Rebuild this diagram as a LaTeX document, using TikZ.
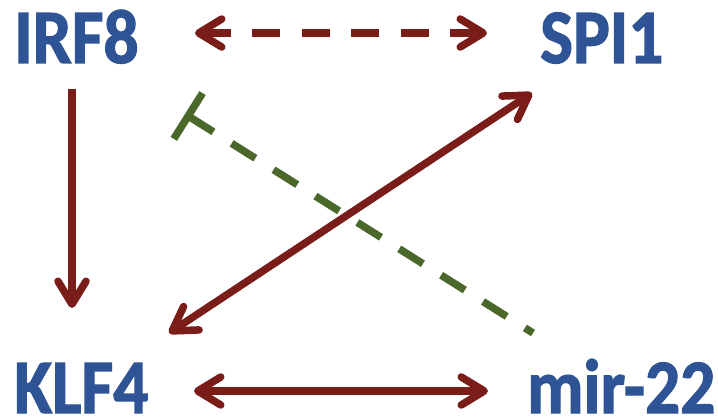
\documentclass[tikz,border=0pt]{standalone}
\usepackage{fontspec}
\setmainfont{Carlito}[FakeStretch=0.9, BoldFeatures={FakeBold=1.6}]
\usetikzlibrary{arrows.meta}
\definecolor{txtblue}{RGB}{46,84,150}
\definecolor{arrred}{RGB}{122,28,24}
\definecolor{inhgreen}{RGB}{74,104,42}
\begin{document}
\begin{tikzpicture}[x=1pt,y=-1pt,
  gene/.style={font=\fontsize{77}{84}\selectfont\bfseries, text=txtblue, inner sep=0pt, anchor=base west},
  act/.style={draw=arrred, line width=7.5pt},
  both/.style={act, {Straight Barb[length=23pt,width=28pt,round]}-{Straight Barb[length=23pt,width=28pt,round]}},
  one/.style={act, -{Straight Barb[length=23pt,width=28pt,round]}},
  dsh/.style={dash pattern=on 28pt off 21.5pt},
  inhib/.style={draw=inhgreen, line width=7.5pt, dsh, {Bar[width=54pt]}-}
]
\useasboundingbox (0,0) rectangle (718,420);
\node[gene] (irf8) at (14,63) {IRF8};
\node[gene] (spi1) at (540,63) {SPI1};
\node[gene] (klf4) at (14,413) {KLF4};
\node[gene] (mir) at (527,413) {mir-22};

\coordinate (irfR) at (195,33);
\coordinate (spiL) at (487,33);
\coordinate (irfB) at (72,89);
\coordinate (klfT) at (72,308);
\coordinate (klfR) at (194,391);
\coordinate (mirL) at (488,391);
\coordinate (klfD) at (169,333);
\coordinate (spiD) at (532,93);
\coordinate (tbar) at (185,114);
\coordinate (mirT) at (533,333);

\draw[both, dsh] (irfR) -- (spiL);
\draw[one] (irfB) -- (klfT);
\draw[both] (klfR) -- (mirL);
\draw[inhib] (tbar) -- (mirT);
\draw[both] (klfD) -- (spiD);
\end{tikzpicture}
\end{document}
